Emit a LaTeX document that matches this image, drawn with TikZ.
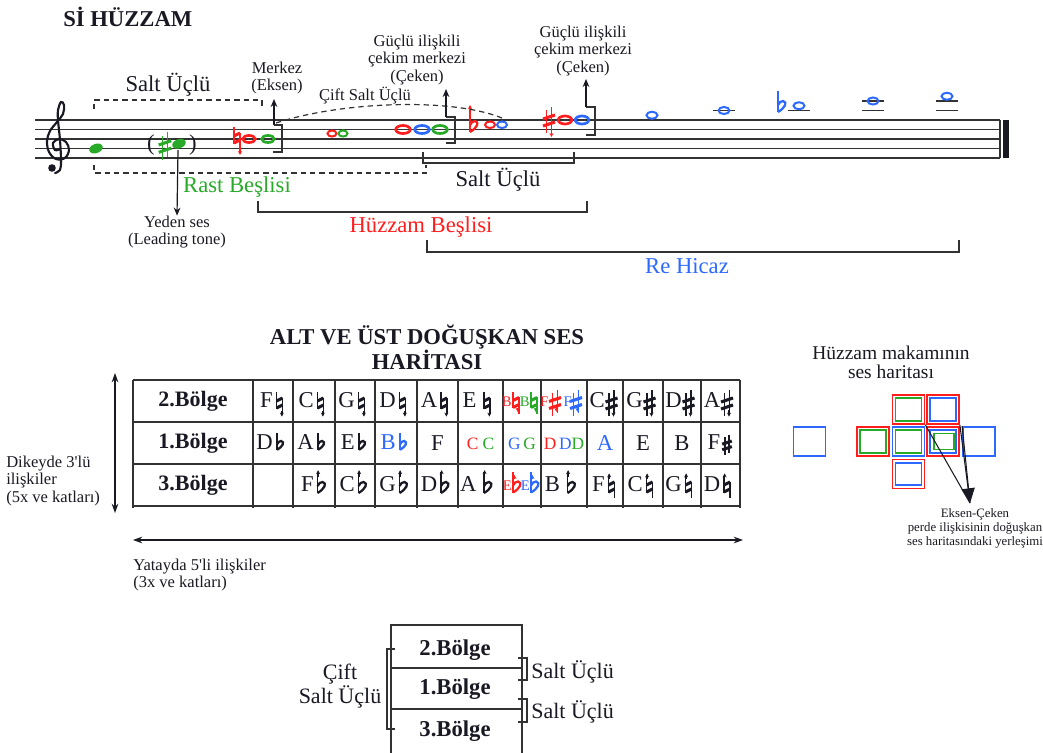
\documentclass[tikz,border=0pt]{standalone}
\usepackage{fontspec}
\setmainfont{Liberation Serif}
\usetikzlibrary{arrows.meta}
\definecolor{mred}{RGB}{255,30,30}
\definecolor{mgreen}{RGB}{40,170,40}
\definecolor{mblue}{RGB}{45,105,255}
\definecolor{ink}{RGB}{25,25,35}
\definecolor{lgray}{RGB}{50,50,50}
\tikzset{
  lbl/.style={inner sep=0pt, text=ink, align=center},
  fbig/.style={lbl, font=\fontsize{17}{20}\selectfont},
  fmid/.style={lbl, font=\fontsize{12.4}{12.9}\selectfont},
  fsmall/.style={lbl, font=\fontsize{9.6}{10.5}\selectfont},
  fbold/.style={lbl, font=\bfseries\fontsize{16.5}{15}\selectfont},
  brk/.style={draw=lgray, line width=0.9pt},
  dbrk/.style={brk, dash pattern=on 4pt off 3pt},
  staffl/.style={draw=lgray, line width=1pt},
  wn/.style={line width=2pt},
  wns/.style={line width=1.5pt},
  uparr/.style={draw=ink, line width=0.9pt, -{Stealth[length=6pt,width=5pt]}},
  gridl/.style={draw=lgray, line width=1pt},
  celltxt/.style={inner sep=0pt, font=\fontsize{17}{20}\selectfont},
  cellsml/.style={inner sep=0pt, font=\fontsize{11}{13}\selectfont},
  mapbox/.style={draw, line width=1.3pt, minimum width=24pt, minimum height=21.75pt, inner sep=0pt},
  mapin/.style={draw, line width=1.3pt, minimum width=19.5pt, minimum height=17pt, inner sep=0pt},
  mapintwo/.style={draw, line width=1.3pt, minimum width=15pt, minimum height=12pt, inner sep=0pt},
  pics/accnat/.style={code={
    \draw[line width=1pt] (-3,-11) -- (-3,5.5);
    \draw[line width=1pt] (3,-5.5) -- (3,11);
    \draw[line width=2.3pt] (-3,-2) -- (3,-5);
    \draw[line width=2.3pt] (-3,5) -- (3,2);}},
  pics/accnatd/.style={code={\pic{accnat};
    \draw[line width=1pt,-{Stealth[length=3pt,width=3pt]}] (3,10) -- (3,17);}},
  pics/accnatu/.style={code={\pic{accnat};
    \draw[line width=1pt,-{Stealth[length=3pt,width=3pt]}] (-3,-10) -- (-3,-17);}},
  pics/accsharp/.style={code={
    \draw[line width=0.9pt] (-2.5,-10) -- (-2.5,13);
    \draw[line width=0.9pt] (2.5,-13) -- (2.5,10);
    \draw[line width=2.3pt] (-6,-1) -- (6,-5);
    \draw[line width=2.3pt] (-6,6) -- (6,2);}},
  pics/accsharpd/.style={code={\pic{accsharp};
    \draw[line width=1pt,-{Stealth[length=3pt,width=3pt]}] (2.5,9) -- (2.5,17);}},
  pics/accflat/.style={code={
    \draw[line width=1pt] (-3,-15) -- (-3,6);
    \draw[line width=1.7pt] (-3,6) .. controls (4,2) and (7,-4) .. (2,-5) .. controls (0,-5.5) and (-2,-3) .. (-3,-1);}},
  pics/accflatu/.style={code={\pic{accflat};
    \draw[line width=1pt,-{Stealth[length=3pt,width=3pt]}] (-3,-13) -- (-3,-21);}},
}
\newcommand{\tc}[6]{%
  \node[celltxt, text=#6, anchor=base east] (#1) at (#2,{#3+6}) {#4};
  \pic[#6, scale=0.8] at ({#2+6.5},{#3+2}) {#5};}
\newcommand{\tcs}[6]{%
  \node[cellsml, text=#6, anchor=base east] (#1) at (#2,{#3+5}) {#4};
  \pic[#6, scale=0.55] at ({#2+4},{#3+1.5}) {#5};}
\begin{document}
\begin{tikzpicture}[x=0.75pt,y=-0.75pt]
\useasboundingbox (0,0) rectangle (1043,753);
\fill[white] (0,0) rectangle (1043,753);

% ---------- title ----------
\node[lbl, font=\bfseries\fontsize{17}{20}\selectfont, anchor=west] (title) at (63,17) {Sİ HÜZZAM};

% ---------- staff ----------
\foreach \yy in {120,129.5,139,148.5,158} \draw[staffl] (35,\yy) -- (1000,\yy);
\draw[staffl] (1000,120) -- (1000,158);
\fill[ink] (1003,119.6) rectangle (1009,158.4);

% treble clef
\draw[ink, line width=1.6pt, line cap=round] plot[smooth, tension=0.6] coordinates {
 (55,173) (60,170) (61,160) (60,140) (58,120) (58,110) (61,102) (64,105) (63,114) (57,122)
 (50,131) (47,141) (49,152) (56,159) (65,158) (69,150) (66,142) (59,139) (53,143) (55,150) (60,149)};
\fill[ink] (52,168) circle (3.8);

% notes
\fill[mgreen, rotate around={20:(96,148.5)}] (96,148.5) ellipse (7 and 4.6);
\node[fbig, anchor=center] (par1) at (151,145) {(};
\pic[mgreen, scale=1.05] at (165,146) {accsharp};
\fill[mgreen, rotate around={20:(179,143.75)}] (179,143.75) ellipse (7 and 4.6);
\node[fbig, anchor=center] (par2) at (193,145) {)};

\pic[mred] at (237,138) {accnatd};
\draw[wn, mred] (249,139) ellipse (6.3 and 3.5);
\draw[wn, mgreen] (268,139) ellipse (6.3 and 3.5);

\draw[wns, mred] (332,133.5) ellipse (4.5 and 3);
\draw[wns, mgreen] (343,133.5) ellipse (4.5 and 3);

\draw[wn, mred] (403,129.5) ellipse (7.3 and 4);
\draw[wn, mblue] (422,129.5) ellipse (7.3 and 4);
\draw[wn, mgreen] (440,129.5) ellipse (7.3 and 4);

\pic[mred] at (473,126) {accflatu};
\draw[wns, mred] (490,124.75) ellipse (5 and 3.3);
\draw[wns, mblue] (502,124.75) ellipse (5 and 3.3);

\pic[mred] at (549,120) {accsharpd};
\draw[wn, mred] (565,120) ellipse (6.8 and 4);
\draw[wn, mblue] (582,120) ellipse (6.8 and 4);

\draw[wns, mblue] (652,115.25) ellipse (5.5 and 3.5);
\draw[staffl] (713,110.5) -- (735,110.5);
\draw[wns, mblue] (724,110.5) ellipse (5.5 and 3.5);
\pic[mblue] at (781,106) {accflat};
\draw[staffl] (788,110.5) -- (810,110.5);
\draw[wns, mblue] (799,105.75) ellipse (5.5 and 3.5);
\draw[staffl] (862,110.5) -- (884,110.5);
\draw[staffl] (862,101) -- (884,101);
\draw[wns, mblue] (873,101) ellipse (5.5 and 3.5);
\draw[staffl] (936,110.5) -- (958,110.5);
\draw[staffl] (936,101) -- (958,101);
\draw[wns, mblue] (947,96.25) ellipse (5.5 and 3.5);

% ---------- staff annotations ----------
\node[fbig] (saltA) at (168,85) {Salt Üçlü};
\draw[dbrk] (94,109) -- (94,100) -- (262,100) -- (262,109);
\draw[dbrk] (94,165) -- (94,173) -- (426,173) -- (426,165);

\node[fmid] (merkez) at (277,78) {Merkez\\(Eksen)};
\coordinate (mk) at (274,125);
\coordinate (mktop) at (274,99);
\draw[brk] (mk) -- (282,125) -- (282,152) -- (273,152);
\draw[uparr] (mk) -- (mktop);

\draw[dbrk] (276,123) .. controls (340,102) and (450,97) .. (502,118);
\node[fmid] (cift) at (365,96) {Çift Salt Üçlü};

\node[fmid] (guclu1) at (417,60) {Güçlü ilişkili\\çekim merkezi\\(Çeken)};
\coordinate (g1) at (446,117);
\coordinate (g1top) at (446,89);
\draw[brk] (g1) -- (455,117) -- (455,143) -- (446,143);
\draw[uparr] (g1) -- (g1top);

\node[fmid] (guclu2) at (583,51) {Güçlü ilişkili\\çekim merkezi\\(Çeken)};
\coordinate (g2) at (586,107);
\coordinate (g2top) at (586,79);
\draw[brk] (g2) -- (595,107) -- (595,135) -- (586,135);
\draw[uparr] (g2) -- (g2top);

\draw[brk] (423,152) -- (423,163) -- (574,163) -- (574,152);
\node[fbig] (saltB) at (498,180) {Salt Üçlü};

\node[fbig, text=mgreen] (rast) at (237,187) {Rast Beşlisi};
\node[fmid] (yeden) at (177,232) {Yeden ses\\(Leading tone)};
\coordinate (ynote) at (178,150);
\draw[uparr] (ynote) -- (yeden.north);

\draw[brk] (258,201) -- (258,212) -- (587,212) -- (587,201);
\node[fbig, text=mred] (huzzam) at (421,227) {Hüzzam Beşlisi};

\draw[brk] (427,240) -- (427,252) -- (959,252) -- (959,240);
\node[fbig, text=mblue] (hicaz) at (687,266) {Re Hicaz};

% ---------- table ----------
\node[lbl, font=\bfseries\fontsize{17}{15}\selectfont] (ttitle) at (427,347) {ALT VE ÜST DOĞUŞKAN SES\\HARİTASI};

\foreach \yy in {380,422,464,506} \draw[gridl] (133,\yy) -- (740,\yy);
\foreach \xx in {133,253,293,335,375,417,458,503,541,587,623,663,701,740} \draw[gridl] (\xx,380) -- (\xx,508);

\node[fbold] (b2) at (193,401) {2.Bölge};
\node[fbold] (b1) at (193,443) {1.Bölge};
\node[fbold] (b3) at (193,485) {3.Bölge};

% row 1
\tc{r1c1}{273}{401}{F}{accnatd}{ink}
\tc{r1c2}{314}{401}{C}{accnatd}{ink}
\tc{r1c3}{355}{401}{G}{accnatd}{ink}
\tc{r1c4}{396}{401}{D}{accnatd}{ink}
\tc{r1c5}{437.5}{401}{A}{accnatd}{ink}
\tc{r1c6}{480.5}{401}{E\,}{accnatd}{ink}
\tcs{r1c7a}{512}{401}{B}{accnatd}{mred}
\tcs{r1c7b}{530}{401}{B}{accnatd}{mgreen}
\tcs{r1c8a}{551}{401}{F\,}{accsharpd}{mred}
\tcs{r1c8b}{572}{401}{F}{accsharpd}{mblue}
\tc{r1c9}{605}{401}{C}{accsharpd}{ink}
\tc{r1c10}{643}{401}{G}{accsharpd}{ink}
\tc{r1c11}{682}{401}{D}{accsharpd}{ink}
\tc{r1c12}{720.5}{401}{A}{accsharpd}{ink}

% row 2
\tc{r2c1}{273}{443}{D}{accflat}{ink}
\tc{r2c2}{314}{443}{A}{accflat}{ink}
\tc{r2c3}{355}{443}{E}{accflat}{ink}
\tc{r2c4}{396}{443}{B}{accflat}{mblue}
\node[celltxt, text=ink] (r2c5) at (437.5,443) {F};
\node[celltxt, font=\fontsize{13}{15}\selectfont] (r2c6) at (480.5,444) {\textcolor{mred}{C} \textcolor{mgreen}{C}};
\node[celltxt, font=\fontsize{13}{15}\selectfont] (r2c7) at (522,444) {\textcolor{mblue}{G}\,\textcolor{mgreen}{G}};
\node[celltxt, font=\fontsize{13}{15}\selectfont] (r2c8) at (564,444) {\textcolor{mred}{D}\,\textcolor{mblue}{D}\textcolor{mgreen}{D}};
\node[celltxt, text=mblue] (r2c9) at (605,443) {A};
\node[celltxt, text=ink] (r2c10) at (643,443) {E};
\node[celltxt, text=ink] (r2c11) at (682,443) {B};
\tc{r2c12}{720.5}{443}{F}{accsharp}{ink}

% row 3
\tc{r3c2}{314}{485}{F}{accflatu}{ink}
\tc{r3c3}{355}{485}{C}{accflatu}{ink}
\tc{r3c4}{396}{485}{G}{accflatu}{ink}
\tc{r3c5}{437.5}{485}{D}{accflatu}{ink}
\tc{r3c6}{480.5}{485}{A\,}{accflatu}{ink}
\tcs{r3c7a}{512}{485}{E}{accflatu}{mred}
\tcs{r3c7b}{530}{485}{E}{accflatu}{mblue}
\tc{r3c8}{564}{485}{B\,}{accflatu}{ink}
\tc{r3c9}{605}{485}{F}{accnatu}{ink}
\tc{r3c10}{643}{485}{C}{accnatu}{ink}
\tc{r3c11}{682}{485}{G}{accnatu}{ink}
\tc{r3c12}{720.5}{485}{D}{accnatu}{ink}

% axes
\coordinate (va) at (115,373);
\coordinate (vb) at (115,513);
\draw[ink, line width=0.9pt, {Stealth[length=7pt,width=5pt]}-{Stealth[length=7pt,width=5pt]}] (va) -- (vb);
\coordinate (ha) at (133,540);
\coordinate (hb) at (743,540);
\draw[ink, line width=0.9pt, {Stealth[length=7pt,width=5pt]}-{Stealth[length=7pt,width=5pt]}] (ha) -- (hb);
\node[fmid, align=left, anchor=west] (dikey) at (6,481) {Dikeyde 3\textquotesingle lü\\ilişkiler\\(5x ve katları)};
\node[fmid, align=left, anchor=west] (yatay) at (133,575) {Yatayda 5\textquotesingle li ilişkiler\\(3x ve katları)};

% ---------- right map ----------
\node[lbl, font=\fontsize{14.6}{14.3}\selectfont] (maptitle) at (891,362) {Hüzzam makamının\\ses haritası};

\node[mapbox, draw=mblue] (mL) at (809.5,441.5) {};
\node[mapbox, draw=mred] (m1) at (873,441.5) {};
\node[mapin, draw=mgreen] (m1i) at (873,441.5) {};
\node[mapbox, draw=mblue] (m2) at (908.5,441.5) {};
\node[mapin, draw=mgreen] (m2i) at (908.5,441.5) {};
\node[mapbox, draw=mred] (m3) at (943,441.5) {};
\node[mapin, draw=mblue] (m3i) at (943,441.5) {};
\node[mapintwo, draw=mgreen] (m3ii) at (944,441.5) {};
\node[mapbox, draw=mblue] (m4) at (979,441.5) {};
\node[mapbox, draw=mred] (t1) at (908.5,409.5) {};
\node[mapin, draw=mgreen] (t1i) at (908.5,409.5) {};
\node[mapbox, draw=mred] (t2) at (943,409.5) {};
\node[mapin, draw=mblue] (t2i) at (943,409.5) {};
\node[mapbox, draw=mred] (bm) at (908.5,474) {};
\node[mapin, draw=mblue] (bmi) at (908.5,474) {};

\coordinate (tip) at (970,503);
\draw[ink, line width=0.8pt] (t1.south east) -- (tip);
\draw[ink, line width=0.8pt] (m4.north west) -- (tip);
\draw[ink, line width=0.8pt, -{Triangle[length=11pt,width=10pt]}] (t2.south east) -- (tip);
\node[fsmall] (eksen) at (975,528) {Eksen-Çeken\\perde ilişkisinin doğuşkan\\ses haritasındaki yerleşimi};

% ---------- bottom diagram ----------
\draw[gridl] (391,753) -- (391,625) -- (522,625) -- (522,753);
\draw[gridl] (391,668) -- (522,668);
\draw[gridl] (391,709) -- (522,709);
\node[fbold, font=\bfseries\fontsize{17}{15}\selectfont] (z2) at (455,650) {2.Bölge};
\node[fbold, font=\bfseries\fontsize{17}{15}\selectfont] (z1) at (455,689) {1.Bölge};
\node[fbold, font=\bfseries\fontsize{17}{15}\selectfont] (z3) at (455,731) {3.Bölge};
\draw[brk] (395,649) -- (387,649) -- (387,729) -- (395,729);
\node[lbl, font=\fontsize{16.5}{16}\selectfont] (cift2) at (340,686) {Çift\\Salt Üçlü};
\draw[brk] (518,658) -- (527,658) -- (527,680) -- (518,680);
\draw[brk] (518,699) -- (527,699) -- (527,722) -- (518,722);
\node[lbl, font=\fontsize{16.5}{16}\selectfont, anchor=west] (s1) at (531,672) {Salt Üçlü};
\node[lbl, font=\fontsize{16.5}{16}\selectfont, anchor=west] (s2) at (531,712) {Salt Üçlü};
\end{tikzpicture}
\end{document}
